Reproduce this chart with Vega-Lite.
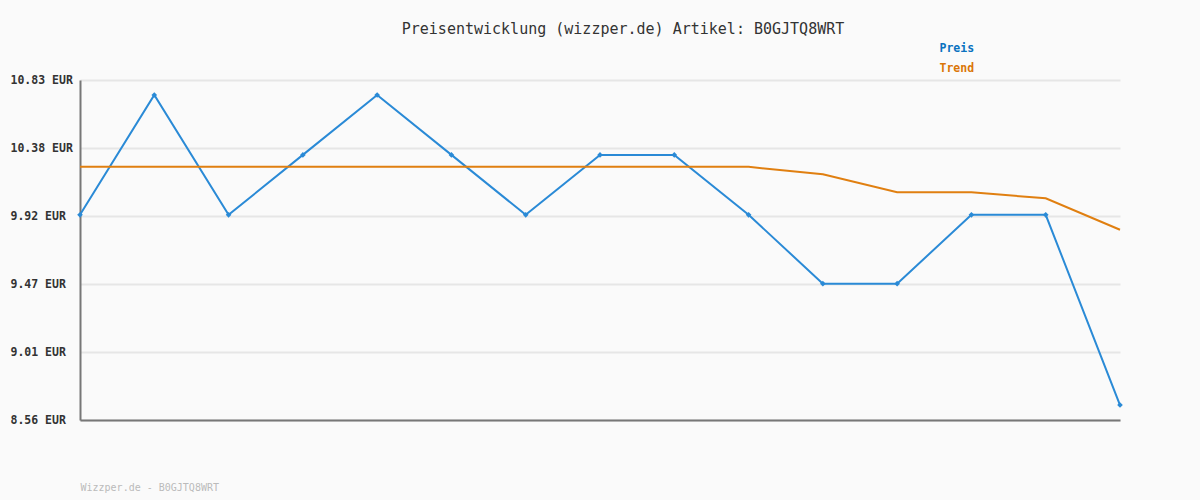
{
  "$schema": "https://vega.github.io/schema/vega-lite/v6.json",
  "width": 1040,
  "height": 340,
  "autosize": {"type": "none"},
  "padding": {"left": 80, "top": 80, "right": 80, "bottom": 80},
  "background": "#fafafa",
  "title": {
    "text": "Preisentwicklung (wizzper.de) Artikel: B0GJTQ8WRT",
    "font": "DejaVu Sans Mono",
    "fontSize": 15,
    "fontWeight": "normal",
    "color": "#333333",
    "anchor": "middle",
    "frame": "group",
    "dx": 23,
    "offset": 6
  },
  "config": {
    "view": {"stroke": null},
    "font": "DejaVu Sans Mono"
  },
  "data": {
    "values": [
      {"i": 0, "series": "Preis", "value": 9.93},
      {"i": 1, "series": "Preis", "value": 10.73},
      {"i": 2, "series": "Preis", "value": 9.93},
      {"i": 3, "series": "Preis", "value": 10.33},
      {"i": 4, "series": "Preis", "value": 10.73},
      {"i": 5, "series": "Preis", "value": 10.33},
      {"i": 6, "series": "Preis", "value": 9.93},
      {"i": 7, "series": "Preis", "value": 10.33},
      {"i": 8, "series": "Preis", "value": 10.33},
      {"i": 9, "series": "Preis", "value": 9.93},
      {"i": 10, "series": "Preis", "value": 9.47},
      {"i": 11, "series": "Preis", "value": 9.47},
      {"i": 12, "series": "Preis", "value": 9.93},
      {"i": 13, "series": "Preis", "value": 9.93},
      {"i": 14, "series": "Preis", "value": 8.66},
      {"i": 0, "series": "Trend", "value": 10.25},
      {"i": 1, "series": "Trend", "value": 10.25},
      {"i": 2, "series": "Trend", "value": 10.25},
      {"i": 3, "series": "Trend", "value": 10.25},
      {"i": 4, "series": "Trend", "value": 10.25},
      {"i": 5, "series": "Trend", "value": 10.25},
      {"i": 6, "series": "Trend", "value": 10.25},
      {"i": 7, "series": "Trend", "value": 10.25},
      {"i": 8, "series": "Trend", "value": 10.25},
      {"i": 9, "series": "Trend", "value": 10.25},
      {"i": 10, "series": "Trend", "value": 10.2},
      {"i": 11, "series": "Trend", "value": 10.08},
      {"i": 12, "series": "Trend", "value": 10.08},
      {"i": 13, "series": "Trend", "value": 10.04},
      {"i": 14, "series": "Trend", "value": 9.83}
    ]
  },
  "encoding": {
    "x": {
      "field": "i",
      "type": "quantitative",
      "scale": {"domain": [0, 14], "nice": false, "zero": false},
      "axis": {
        "labels": false,
        "ticks": false,
        "grid": false,
        "domainColor": "#777777",
        "domainWidth": 2,
        "title": "Wizzper.de - B0GJTQ8WRT",
        "titleFont": "DejaVu Sans Mono",
        "titleFontSize": 10,
        "titleFontWeight": "normal",
        "titleColor": "#bbbbbb",
        "titleAnchor": "start",
        "titleAlign": "left",
        "titleBaseline": "alphabetic",
        "titlePadding": 70
      }
    },
    "y": {
      "field": "value",
      "type": "quantitative",
      "scale": {"domain": [8.56, 10.83], "nice": false, "zero": false},
      "axis": {
        "values": [8.56, 9.014, 9.468, 9.922, 10.376, 10.83],
        "labelExpr": "format(datum.value, '.2f') + ' EUR'",
        "labelFont": "DejaVu Sans Mono",
        "labelFontSize": 11.5,
        "labelFontWeight": "bold",
        "labelColor": "#333333",
        "labelAlign": "left",
        "labelBaseline": "middle",
        "labelPadding": 70,
        "ticks": false,
        "grid": true,
        "gridColor": "#e6e6e6",
        "gridWidth": 2,
        "domainColor": "#777777",
        "domainWidth": 2,
        "title": null
      }
    },
    "color": {
      "field": "series",
      "type": "nominal",
      "scale": {"domain": ["Preis", "Trend"], "range": ["#2a8ad6", "#e07f10"]},
      "legend": {
        "orient": "none",
        "legendX": 848,
        "legendY": -37,
        "title": null,
        "symbolSize": 0,
        "symbolOpacity": 0,
        "symbolStrokeWidth": 0,
        "labelOffset": 0,
        "labelFont": "DejaVu Sans Mono",
        "labelFontSize": 11.5,
        "labelFontWeight": "bold",
        "rowPadding": 7,
        "encode": {
          "labels": {"update": {"fill": {"signal": "datum.value === 'Preis' ? '#0a72c0' : '#da7608'"}}}
        }
      }
    }
  },
  "layer": [
    {
      "mark": {"type": "line", "strokeWidth": 2}
    },
    {
      "transform": [{"filter": "datum.series === 'Preis'"}],
      "mark": {"type": "point", "shape": "diamond", "filled": true, "size": 32, "opacity": 1, "color": "#0a6fbf"}
    }
  ]
}
